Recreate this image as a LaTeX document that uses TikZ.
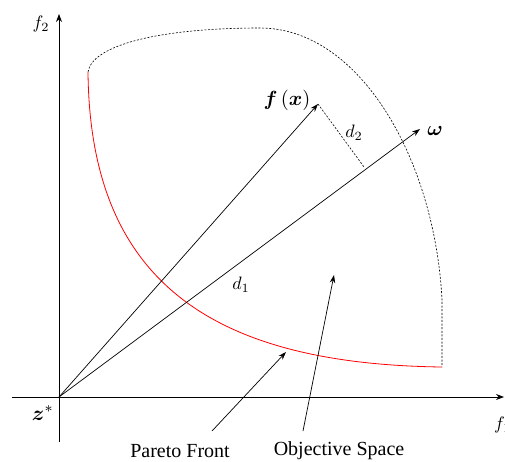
\documentclass[tikz,border=0pt]{standalone}
\usepackage{fontspec}
\setmainfont{Liberation Serif}
\usepackage{bm}
\usetikzlibrary{arrows.meta}
\newcommand{\mathlbl}[2][1.8]{\scalebox{#1}{$#2$}}
\begin{document}
\begin{tikzpicture}[x=1pt,y=-1pt,
  lbl/.style={inner sep=0pt},
  txt/.style={inner sep=0pt,font=\fontsize{20}{24}\selectfont},
  arr/.style={line width=0.7pt,-{Stealth[length=8pt,width=5.5pt]}},
  axis/.style={line width=0.8pt,-{Stealth[length=8pt,width=6pt]}},
  bnd/.style={line width=0.6pt,dash pattern=on 2pt off 1.6pt},
  front/.style={red,line width=0.8pt}]
\useasboundingbox (0,0) rectangle (505,461);
\coordinate (O) at (59,397);
\coordinate (yb) at (59,442);
\coordinate (yt) at (59,14);
\coordinate (xl) at (12,397);
\coordinate (xr) at (504,397);
\draw[axis] (yb) -- (yt);
\draw[axis] (xl) -- (xr);
\node[lbl] (f2) at (41,24) {\mathlbl{f_2}};
\node[lbl,anchor=west] (f1) at (494,425) {\mathlbl{f_1}};
\node[lbl] (z) at (43,413) {\mathlbl[2.1]{\bm{z}^{*}}};
% objective space boundary
\coordinate (A) at (88,72);
\coordinate (T) at (260,28);
\coordinate (R) at (442,300);
\coordinate (B) at (442,367);
\draw[bnd] (A) .. controls (92,45) and (160,28) .. (T)
  .. controls (360,28) and (435,160) .. (R) -- (B);
% Pareto front
\draw[front] (A) .. controls (90,280) and (210,364) .. (B);
\coordinate (fx) at (318,104);
\coordinate (w) at (420,129);
\coordinate (foot) at (364,167);
\draw[arr] (O) -- (fx);
\draw[arr] (O) -- (w);
\draw[bnd] (fx) -- (foot);
\node[lbl] (fxl) at (287,100) {\mathlbl[2.05]{\bm{f}\left(\bm{x}\right)}};
\node[lbl] (wl) at (435,131) {\mathlbl[2.05]{\bm{\omega}}};
\node[lbl] (d2) at (354,133) {\mathlbl{d_2}};
\node[lbl] (d1) at (241,285) {\mathlbl{d_1}};
% callouts
\node[txt] (pf) at (180,451) {Pareto Front};
\node[txt] (os) at (339,451) {Objective Space};
\coordinate (pfs) at (212,431);
\coordinate (pfe) at (286,352);
\coordinate (oss) at (303,431);
\coordinate (ose) at (334,275);
\draw[arr] (pfs) -- (pfe);
\draw[arr] (oss) -- (ose);
\end{tikzpicture}
\end{document}
